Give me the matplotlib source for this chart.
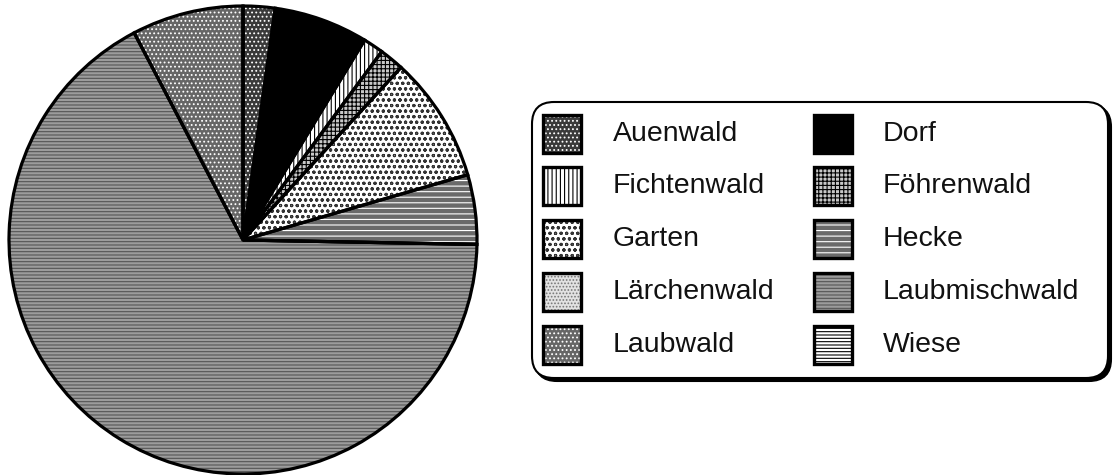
import matplotlib.pyplot as plt
from matplotlib.patches import Rectangle, FancyBboxPatch

# Flächenanteile (Prozent), im Uhrzeigersinn ab 12 Uhr
labels = ['Auenwald', 'Dorf', 'Fichtenwald', 'Föhrenwald', 'Garten',
          'Hecke', 'Lärchenwald', 'Laubmischwald', 'Laubwald', 'Wiese']
values = [2.2, 6.5, 1.4, 1.7, 8.7, 4.8, 0.0, 67.0, 7.7, 0.0]

# Grauwert / Schraffur pro Kategorie
faces = ['#3a3a3a', 'black', 'white', '#c8c8c8', 'white',
         '#6a6a6a', '#e2e2e2', '#9c9c9c', '#666666', 'white']
hatches = ['....', '', '||||', '++++', 'ooo',
           '---', '.....', '-----', '....', '-----']
hatch_cols = ['white', 'black', 'black', 'black', '#333333',
              'white', '#777777', '#555555', 'white', 'black']

plt.rcParams['font.family'] = ['Liberation Sans', 'DejaVu Sans']
plt.rcParams['hatch.linewidth'] = 0.8

W, H = 1113, 475
fig = plt.figure(figsize=(W / 100, H / 100), dpi=100)

# Kreisdiagramm
ax = fig.add_axes([9 / W, 1 / H, 468 / W, 468 / H])
wedges, _ = ax.pie(values, startangle=90, counterclock=False, radius=1)
for w, f, h, c in zip(wedges, faces, hatches, hatch_cols):
    w.set_facecolor(f)
    w.set_hatch(h)
    w.set_edgecolor(c)
    w.set_linewidth(0)
outl, _ = ax.pie(values, startangle=90, counterclock=False, radius=1,
                 wedgeprops=dict(fill=False, edgecolor='black', linewidth=2.3))
for w in outl:
    w.set_clip_on(False)
ax.set_xlim(-1, 1)
ax.set_ylim(-1, 1)
ax.set_aspect('equal')

# Legende von Hand in Pixelkoordinaten
lax = fig.add_axes([0, 0, 1, 1])
lax.set_xlim(0, W)
lax.set_ylim(H, 0)
lax.axis('off')

shadow = FancyBboxPatch((535, 105), 576, 276, boxstyle='round,pad=0,rounding_size=22',
                        facecolor='black', edgecolor='black', linewidth=1.5)
box = FancyBboxPatch((532, 102), 576, 276, boxstyle='round,pad=0,rounding_size=22',
                     facecolor='white', edgecolor='black', linewidth=1.5)
lax.add_patch(shadow)
lax.add_patch(box)

col_x = [543, 814]
text_x = [613, 883]
row_y = [134, 186, 239, 292, 345]
size = 38
for i, lab in enumerate(labels):
    r, c = divmod(i, 2)
    x0 = col_x[c]
    y0 = row_y[r] - size / 2
    lax.add_patch(Rectangle((x0, y0), size, size, facecolor=faces[i],
                            hatch=hatches[i], edgecolor=hatch_cols[i], linewidth=0))
    lax.add_patch(Rectangle((x0, y0), size, size, fill=False,
                            edgecolor='black', linewidth=2.4))
    lax.text(text_x[c], row_y[r], lab, fontsize=20.5, va='center', ha='left',
             color='#111111')

fig.savefig('out.png', dpi=100)
